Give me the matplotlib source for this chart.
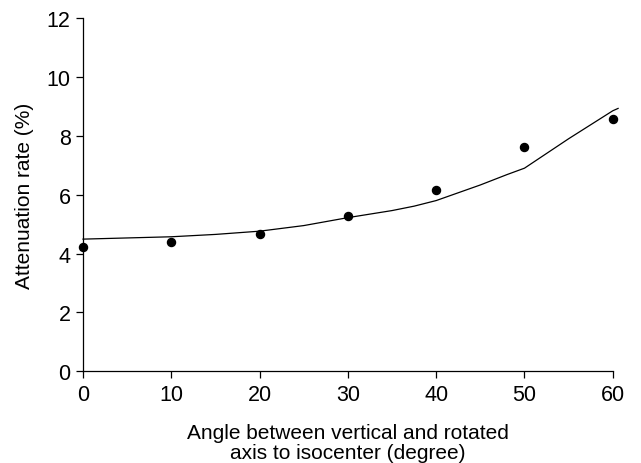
import matplotlib
matplotlib.use('Agg')
import matplotlib.pyplot as plt

plt.rcParams['font.family'] = ['Liberation Sans', 'DejaVu Sans']

# measured points
angle = [0, 10, 20, 30, 40, 50, 60]
rate = [4.22, 4.40, 4.66, 5.26, 6.15, 7.61, 8.57]

# fitted curve
curve_x = [0, 5, 10, 15, 20, 25, 30, 35, 37.5, 40, 45, 48, 50, 55, 60, 60.6]
curve_y = [4.49, 4.53, 4.57, 4.65, 4.76, 4.95, 5.22, 5.46, 5.61, 5.80, 6.33, 6.68, 6.90, 7.90, 8.85, 8.93]

fig = plt.figure(figsize=(6.41, 4.64), dpi=100)
ax = fig.add_axes([0.1295, 0.1976, 0.8265, 0.7614])

ax.plot(curve_x, curve_y, color='black', linewidth=0.9, clip_on=False)
ax.plot(angle, rate, 'o', color='black', markersize=5.8, clip_on=False)

ax.set_xlim(0, 60)
ax.set_ylim(0, 12)
ax.set_xticks(range(0, 61, 10))
ax.set_yticks(range(0, 13, 2))
ax.spines['top'].set_visible(False)
ax.spines['right'].set_visible(False)
ax.spines['left'].set_linewidth(0.9)
ax.spines['bottom'].set_linewidth(0.9)
ax.tick_params(direction='out', length=5, width=0.9, labelsize=15.5, pad=4)

ax.set_xlabel('Angle between vertical and rotated\naxis to isocenter (degree)', fontsize=15, labelpad=13, linespacing=1.1)
ax.set_ylabel('Attenuation rate (%)', fontsize=15, labelpad=9)

fig.savefig('out.png', dpi=100)
